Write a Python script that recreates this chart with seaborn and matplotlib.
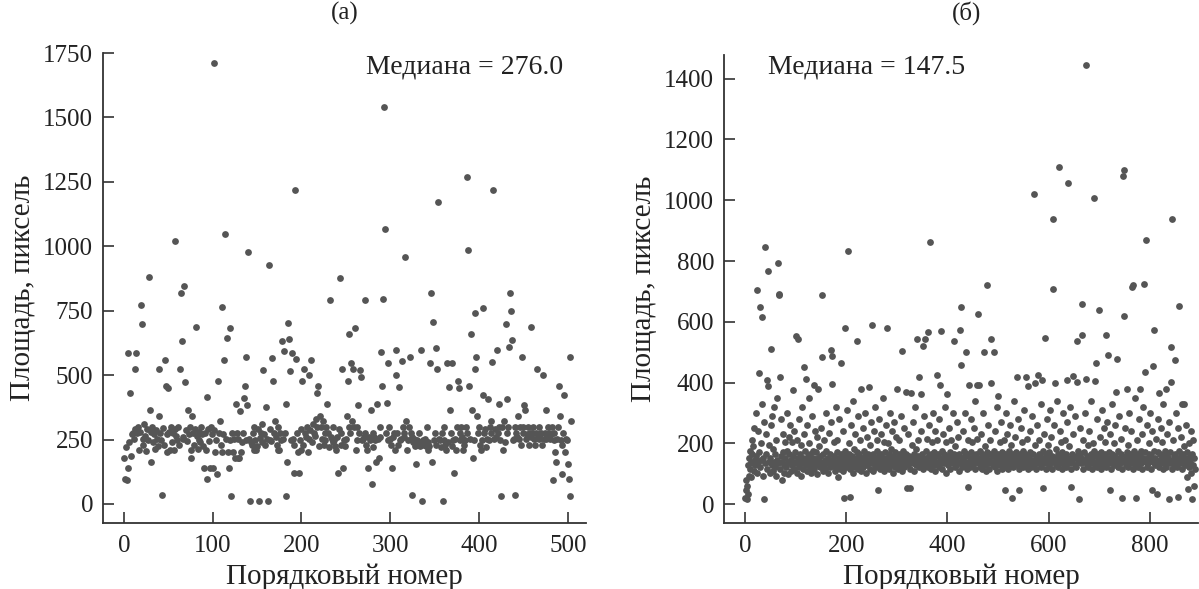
import matplotlib
matplotlib.use("Agg")
import matplotlib.pyplot as plt
import numpy as np
import pandas as pd
import seaborn as sns

# площадь объектов, по порядку (панель а)
area_a = [
    177, 96, 222, 92, 140, 586, 240, 432, 185, 270,
    275, 252, 524, 290, 586, 276, 300, 211, 280, 771,
    698, 230, 252, 310, 265, 205, 290, 250, 881, 366,
    162, 280, 300, 240, 270, 215, 285, 252, 225, 340,
    524, 275, 250, 34, 295, 230, 559, 457, 270, 200,
    449, 280, 211, 300, 240, 276, 210, 290, 1022, 265,
    250, 300, 230, 524, 819, 634, 252, 260, 847, 473,
    285, 245, 366, 270, 300, 180, 211, 340, 276, 230,
    290, 685, 265, 215, 250, 280, 240, 300, 270, 225,
    140, 276, 211, 414, 96, 290, 245, 140, 300, 270,
    140, 1710, 285, 200, 250, 118, 479, 276, 320, 230,
    200, 764, 270, 559, 1049, 252, 644, 200, 140, 250,
    681, 30, 276, 200, 252, 180, 388, 276, 180, 252,
    180, 360, 200, 240, 276, 410, 457, 572, 250, 383,
    976, 252, 13, 240, 230, 276, 210, 300, 250, 211,
    225, 290, 13, 255, 276, 240, 310, 521, 270, 230,
    376, 252, 13, 929, 250, 290, 245, 568, 476, 276,
    320, 260, 230, 211, 300, 210, 276, 250, 634, 252,
    592, 276, 30, 388, 162, 704, 640, 517, 250, 586,
    252, 120, 230, 1220, 563, 276, 200, 120, 250, 211,
    290, 476, 230, 524, 276, 260, 300, 200, 499, 252,
    285, 560, 240, 310, 276, 265, 330, 300, 432, 457,
    225, 340, 300, 252, 320, 230, 276, 250, 300, 388,
    276, 220, 791, 260, 252, 240, 300, 250, 225, 211,
    260, 120, 290, 877, 230, 276, 524, 140, 250, 225,
    252, 340, 479, 300, 660, 276, 548, 320, 524, 300,
    683, 211, 250, 300, 385, 276, 520, 494, 250, 252,
    260, 276, 791, 230, 211, 140, 260, 250, 363, 76,
    276, 220, 260, 250, 162, 389, 252, 177, 260, 300,
    588, 459, 794, 1539, 1068, 276, 392, 250, 546, 300,
    252, 230, 140, 260, 276, 211, 599, 499, 276, 230,
    453, 250, 252, 553, 300, 260, 276, 957, 320, 211,
    250, 300, 570, 276, 260, 34, 240, 252, 225, 156,
    250, 230, 276, 225, 240, 596, 13, 250, 230, 252,
    225, 300, 240, 211, 225, 546, 819, 162, 706, 250,
    276, 230, 605, 524, 1172, 252, 250, 220, 276, 13,
    300, 250, 230, 211, 548, 240, 453, 363, 276, 225,
    546, 250, 120, 252, 210, 300, 479, 449, 276, 250,
    300, 260, 211, 230, 250, 300, 276, 1267, 987, 457,
    252, 661, 363, 177, 250, 524, 741, 569, 340, 276,
    300, 230, 211, 250, 424, 760, 276, 290, 220, 252,
    409, 250, 300, 276, 320, 551, 1220, 252, 290, 260,
    596, 276, 389, 300, 250, 30, 300, 211, 320, 240,
    698, 407, 276, 300, 609, 819, 750, 635, 250, 252,
    34, 300, 276, 260, 340, 252, 300, 230, 572, 276,
    300, 385, 366, 252, 270, 300, 230, 276, 685, 260,
    276, 300, 252, 230, 276, 524, 260, 252, 300, 270,
    276, 230, 499, 252, 276, 366, 252, 260, 300, 276,
    252, 270, 300, 92, 276, 250, 200, 164, 252, 300,
    457, 343, 250, 230, 116, 276, 422, 200, 252, 250,
    156, 96, 30, 572, 321,
]

# площадь объектов, по порядку (панель б)
area_b = [
    20, 45, 80, 16, 60, 128, 35, 152, 94, 176,
    116, 140, 90, 210, 164, 134, 190, 110, 250, 146,
    128, 300, 158, 104, 705, 240, 140, 432, 170, 650,
    122, 200, 146, 615, 330, 94, 152, 270, 16, 846,
    134, 230, 164, 116, 407, 768, 389, 140, 196, 104,
    152, 260, 512, 128, 290, 110, 182, 140, 320, 122,
    164, 210, 94, 146, 350, 134, 795, 693, 689, 417,
    116, 158, 280, 140, 80, 170, 230, 128, 104, 204,
    152, 122, 300, 176, 140, 100, 220, 164, 134, 260,
    110, 146, 204, 128, 375, 158, 116, 240, 140, 170,
    553, 134, 210, 104, 152, 542, 122, 280, 164, 140,
    94, 196, 134, 320, 152, 116, 230, 452, 146, 176,
    411, 128, 260, 110, 158, 140, 200, 350, 122, 164,
    146, 104, 290, 134, 176, 152, 116, 393, 240, 140,
    128, 170, 100, 220, 152, 380, 134, 190, 122, 158,
    140, 250, 687, 485, 110, 164, 128, 210, 146, 116,
    176, 300, 134, 152, 104, 235, 140, 164, 122, 270,
    508, 486, 397, 146, 128, 204, 158, 110, 140, 320,
    122, 170, 210, 140, 90, 152, 280, 134, 116, 164,
    464, 146, 128, 240, 110, 158, 19, 176, 580, 140,
    122, 310, 152, 134, 832, 200, 164, 116, 23, 146,
    260, 128, 158, 104, 340, 140, 182, 122, 230, 152,
    134, 170, 536, 116, 290, 146, 164, 210, 128, 110,
    380, 152, 140, 250, 122, 176, 134, 300, 158, 104,
    146, 220, 128, 164, 385, 140, 196, 116, 152, 270,
    589, 134, 164, 110, 240, 146, 128, 320, 152, 122,
    176, 210, 140, 45, 158, 280, 134, 116, 164, 230,
    146, 128, 350, 152, 110, 204, 140, 170, 122, 260,
    580, 152, 134, 200, 164, 116, 146, 300, 128, 182,
    140, 240, 158, 104, 152, 270, 122, 170, 140, 220,
    134, 380, 152, 116, 164, 210, 146, 128, 290, 158,
    110, 505, 140, 176, 250, 122, 152, 134, 370, 164,
    146, 52, 230, 128, 158, 116, 52, 367, 140, 196,
    152, 134, 270, 164, 110, 146, 320, 128, 182, 140,
    542, 158, 210, 122, 420, 152, 140, 240, 362, 134,
    164, 116, 522, 146, 290, 542, 128, 176, 152, 215,
    140, 122, 566, 158, 260, 864, 134, 164, 116, 204,
    152, 146, 300, 128, 170, 110, 240, 140, 158, 210,
    425, 134, 164, 122, 280, 393, 152, 569, 140, 176,
    116, 230, 146, 164, 134, 320, 152, 104, 204, 140,
    362, 158, 128, 250, 146, 170, 116, 210, 140, 152,
    134, 300, 536, 164, 122, 190, 146, 128, 270, 158,
    140, 220, 110, 164, 573, 134, 457, 650, 152, 122,
    240, 146, 176, 128, 158, 300, 140, 501, 116, 164,
    210, 58, 393, 134, 152, 122, 280, 170, 140, 204,
    146, 128, 250, 158, 116, 340, 164, 140, 215, 392,
    627, 152, 393, 134, 176, 122, 230, 146, 164, 116,
    140, 300, 158, 501, 128, 190, 152, 110, 722, 170,
    134, 260, 146, 116, 164, 210, 398, 542, 140, 158,
    128, 501, 176, 122, 240, 152, 140, 320, 110, 164,
    356, 134, 146, 204, 128, 158, 270, 116, 170, 140,
    152, 210, 122, 48, 164, 300, 140, 134, 230, 158,
    116, 176, 146, 260, 128, 152, 196, 140, 20, 164,
    122, 340, 152, 134, 220, 146, 170, 420, 128, 280,
    158, 116, 45, 164, 140, 250, 134, 204, 152, 122,
    176, 310, 146, 128, 164, 420, 140, 215, 158, 116,
    389, 152, 134, 240, 170, 122, 146, 290, 140, 164,
    1020, 128, 196, 400, 152, 116, 260, 146, 134, 425,
    164, 210, 140, 158, 330, 122, 409, 152, 176, 52,
    134, 230, 548, 146, 116, 164, 280, 140, 152, 195,
    122, 170, 310, 134, 146, 220, 158, 116, 939, 708,
    140, 260, 400, 152, 128, 182, 146, 340, 164, 122,
    134, 1110, 240, 152, 140, 204, 116, 170, 300, 146,
    158, 128, 210, 140, 164, 122, 270, 410, 1058, 152,
    134, 190, 146, 320, 116, 58, 164, 140, 230, 421,
    152, 128, 290, 158, 122, 403, 536, 146, 176, 140,
    16, 164, 250, 134, 152, 659, 555, 116, 210, 146,
    170, 140, 300, 1445, 413, 128, 158, 196, 122, 152,
    240, 146, 134, 164, 340, 116, 152, 200, 140, 1006,
    176, 128, 406, 464, 158, 122, 280, 146, 164, 640,
    134, 220, 152, 116, 170, 310, 140, 158, 128, 250,
    146, 204, 164, 122, 555, 140, 270, 152, 492, 134,
    170, 230, 45, 146, 116, 164, 330, 140, 152, 200,
    128, 158, 260, 370, 146, 478, 122, 176, 140, 290,
    152, 134, 215, 164, 116, 19, 1080, 146, 1098, 620,
    140, 250, 158, 128, 170, 380, 122, 196, 152, 300,
    146, 164, 134, 240, 716, 140, 720, 116, 176, 158,
    128, 350, 152, 19, 146, 210, 164, 122, 280, 140,
    158, 380, 134, 176, 230, 116, 152, 320, 146, 724,
    170, 434, 140, 869, 122, 260, 152, 134, 200, 164,
    146, 300, 116, 158, 240, 45, 140, 455, 573, 176,
    128, 152, 215, 134, 33, 170, 280, 367, 122, 146,
    164, 250, 140, 158, 204, 116, 330, 152, 134, 176,
    146, 380, 122, 164, 230, 140, 152, 16, 270, 134,
    170, 403, 517, 116, 939, 146, 210, 158, 128, 476,
    164, 300, 140, 152, 122, 250, 25, 652, 176, 134,
    146, 220, 158, 116, 330, 164, 140, 328, 190, 128,
    152, 260, 134, 170, 90, 146, 51, 200, 122, 158,
    140, 240, 104, 16, 164, 128, 210, 60, 152, 116,
]

titles = ["(а)", "(б)"]
median_labels = ["Медиана = 276.0", "Медиана = 147.5"]
yticks_a = [0, 250, 500, 750, 1000, 1250, 1500, 1750]
yticks_b = [0, 200, 400, 600, 800, 1000, 1200, 1400]
xticks_a = [0, 100, 200, 300, 400, 500]
xticks_b = [0, 200, 400, 600, 800]

sns.set_style("ticks")
plt.rcParams["font.family"] = ["Liberation Serif", "DejaVu Serif"]

DOT = "#555555"
TXT = "#222222"

fig = plt.figure(figsize=(11.99, 5.89), dpi=100)
ax_a = fig.add_axes([103 / 1199, 66 / 589, 483 / 1199, 470 / 589])
ax_b = fig.add_axes([724 / 1199, 66 / 589, 474 / 1199, 468 / 589])

df_a = pd.DataFrame({"n": np.arange(len(area_a)), "area": area_a})
df_b = pd.DataFrame({"n": np.arange(len(area_b)), "area": area_b})

panels = [
    (ax_a, df_a, yticks_a, xticks_a, (-23.6, 520.5), (-74, 1750)),
    (ax_b, df_b, yticks_b, xticks_b, (-41.5, 895), (-62, 1478)),
]

for ax, df, yt, xt, xl, yl in panels:
    sns.scatterplot(data=df, x="n", y="area", ax=ax, color=DOT,
                    s=24, linewidth=0, alpha=1)
    ax.set_xlim(*xl)
    ax.set_ylim(*yl)
    ax.set_xticks(xt)
    ax.set_yticks(yt)
    ax.tick_params(direction="in", length=8, width=1.2, colors="#333333",
                   labelsize=18, labelcolor=TXT)
    ax.tick_params(axis="x", pad=9)
    ax.tick_params(axis="y", pad=7)
    for side in ["top", "right"]:
        ax.spines[side].set_visible(False)
    for side in ["left", "bottom"]:
        ax.spines[side].set_linewidth(1.3)
        ax.spines[side].set_color("#333333")
    ax.set_xlabel("Порядковый номер", fontsize=21, color=TXT, labelpad=4)
    ax.set_ylabel("Площадь, пиксель", fontsize=21, color=TXT, labelpad=5)

fig.text(345 / 1199, 1 - 13 / 589, titles[0], ha="center", va="center",
         fontsize=18, color=TXT)
fig.text(967 / 1199, 1 - 13 / 589, titles[1], ha="center", va="center",
         fontsize=18, color=TXT)

ax_a.text(0.952, 0.970, median_labels[0], transform=ax_a.transAxes,
          ha="right", va="center", fontsize=20, color=TXT)
ax_b.text(0.093, 0.974, median_labels[1], transform=ax_b.transAxes,
          ha="left", va="center", fontsize=20, color=TXT)

fig.savefig("out.png", dpi=100)
